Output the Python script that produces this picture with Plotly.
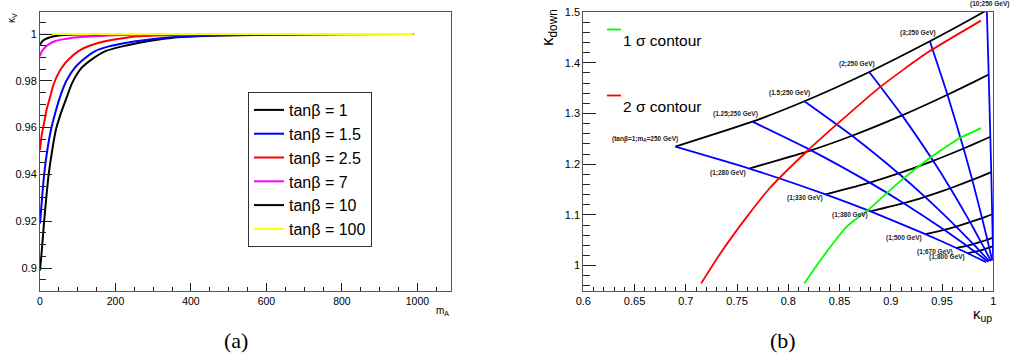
import plotly.graph_objects as go

W, H = 1012, 360
FONT = "Liberation Sans, Arial, sans-serif"

# ---------------- Panel (a): kappa_V vs m_A ----------------
legend_a = ["tanβ = 1", "tanβ = 1.5", "tanβ = 2.5", "tanβ = 7", "tanβ = 10", "tanβ = 100"]
colors_a = ["#000000", "#0000ff", "#ff0000", "#ff00ff", "#000000", "#ffff00"]

mA_tb1 = [0, 4, 7, 11, 16, 23, 32, 42, 55, 70, 85, 110, 140, 172, 215, 260, 348, 450, 600, 800, 990]
kv_tb1 = [0.899, 0.906, 0.912, 0.920, 0.929, 0.940, 0.950, 0.959, 0.966, 0.9726, 0.979, 0.9855,
          0.9895, 0.9926, 0.9946, 0.9962, 0.9983, 0.9992, 0.9997, 0.9999, 1.0]

mA_tb15 = [0, 5, 11, 19, 29, 40, 52, 70, 92, 118, 145, 180, 225, 290, 348, 450, 600, 800, 990]
kv_tb15 = [0.919, 0.929, 0.940, 0.950, 0.959, 0.966, 0.9726, 0.980, 0.9855, 0.9895, 0.9926, 0.9946,
           0.9962, 0.9977, 0.9986, 0.9994, 0.9998, 1.0, 1.0]

mA_tb25 = [0, 3, 7, 12, 18, 26, 35, 45, 57, 75, 101, 135, 172, 215, 260, 350, 500, 700, 990]
kv_tb25 = [0.9504, 0.955, 0.959, 0.963, 0.968, 0.9726, 0.978, 0.982, 0.9855, 0.989, 0.9926, 0.9952,
           0.9969, 0.9981, 0.999, 0.9996, 0.9999, 1.0, 1.0]

mA_tb7 = [0, 5, 12, 24, 39, 60, 83, 110, 136, 180, 250, 350, 500, 990]
kv_tb7 = [0.9905, 0.9926, 0.994, 0.9957, 0.9969, 0.9977, 0.9983, 0.9987, 0.999, 0.9994, 0.9997,
          0.9999, 1.0, 1.0]

mA_tb10 = [0, 8, 21, 48, 100, 200, 400, 990]
kv_tb10 = [0.9954, 0.9972, 0.9983, 0.9994, 0.9998, 1.0, 1.0, 1.0]

mA_tb100 = [0, 990]
kv_tb100 = [1.0, 1.0]

series_a = [(mA_tb1, kv_tb1), (mA_tb15, kv_tb15), (mA_tb25, kv_tb25),
            (mA_tb7, kv_tb7), (mA_tb10, kv_tb10), (mA_tb100, kv_tb100)]

# ---------------- Panel (b): kappa_down vs kappa_up grid ----------------
grid_tanb = [1, 1.25, 1.5, 2, 3, 5, 10]
grid_tanb_text = ["1", "1.25", "1.5", "2", "3", "5", "10"]
grid_mA = [250, 280, 330, 380, 500, 670, 800, 1000, 1500]

k_up = [
    [0.6898, 0.7620, 0.8363, 0.8803, 0.9337, 0.9640, 0.9750, 0.9841, 0.9930],
    [0.7650, 0.8222, 0.8795, 0.9126, 0.9520, 0.9741, 0.9821, 0.9886, 0.9950],
    [0.8157, 0.8622, 0.9076, 0.9334, 0.9637, 0.9805, 0.9865, 0.9915, 0.9962],
    [0.8790, 0.9110, 0.9413, 0.9581, 0.9774, 0.9879, 0.9917, 0.9947, 0.9977],
    [0.9381, 0.9553, 0.9710, 0.9795, 0.9890, 0.9942, 0.9960, 0.9975, 0.9989],
    [0.9757, 0.9827, 0.9889, 0.9922, 0.9958, 0.9978, 0.9985, 0.9991, 0.9996],
    [0.9937, 0.9955, 0.9971, 0.9980, 0.9989, 0.9994, 0.9996, 0.9997, 0.9999],
]
k_down = [
    [1.2346, 1.1914, 1.1404, 1.1068, 1.0622, 1.0348, 1.0244, 1.0156, 1.0069],
    [1.2838, 1.2273, 1.1636, 1.1230, 1.0706, 1.0391, 1.0274, 1.0175, 1.0078],
    [1.3240, 1.2560, 1.1817, 1.1356, 1.0771, 1.0425, 1.0297, 1.0190, 1.0084],
    [1.3818, 1.2962, 1.2066, 1.1526, 1.0857, 1.0469, 1.0327, 1.0208, 1.0092],
    [1.4422, 1.3369, 1.2309, 1.1689, 1.0938, 1.0511, 1.0355, 1.0226, 1.0100],
    [1.4832, 1.3638, 1.2466, 1.1793, 1.0989, 1.0536, 1.0373, 1.0236, 1.0104],
    [1.5035, 1.3768, 1.2540, 1.1842, 1.1013, 1.0548, 1.0381, 1.0241, 1.0106],
]
blue_tanb = [1, 1.25, 1.5, 2, 3, 10]          # constant tan(beta) lines
black_mA = [250, 280, 330, 380, 500, 670, 800]  # constant m_A lines

contour2_up = [0.715, 0.733, 0.761, 0.782, 0.8195, 0.847, 0.8895, 0.935, 0.988]
contour2_down = [0.965, 1.022, 1.100, 1.153, 1.228, 1.278, 1.352, 1.419, 1.483]
contour1_up = [0.8156, 0.834, 0.857, 0.878, 0.909, 0.938, 0.967, 0.988]
contour1_down = [0.965, 1.018, 1.077, 1.110, 1.166, 1.212, 1.251, 1.271]


def px(x):
    return x / W


def py(y):
    return 1 - y / H


fig = go.Figure()

for (xs, ys), name, col in zip(series_a, legend_a, colors_a):
    fig.add_trace(go.Scatter(x=xs, y=ys, mode="lines", name=name, legendgroup=name,
                             line=dict(color=col, width=2, shape="spline", smoothing=0.6),
                             xaxis="x", yaxis="y", hoverinfo="skip"))

# black lines: constant m_A, varying tan(beta)
for m in black_mA:
    j = grid_mA.index(m)
    fig.add_trace(go.Scatter(x=[row[j] for row in k_up], y=[row[j] for row in k_down],
                             mode="lines", line=dict(color="#000000", width=1.8, shape="spline", smoothing=0.5),
                             showlegend=False, xaxis="x2", yaxis="y2", hoverinfo="skip"))
# blue lines: constant tan(beta), varying m_A
for t in blue_tanb:
    i = grid_tanb.index(t)
    fig.add_trace(go.Scatter(x=k_up[i], y=k_down[i], mode="lines",
                             line=dict(color="#0000ff", width=1.8, shape="spline", smoothing=0.5),
                             showlegend=False, xaxis="x2", yaxis="y2", hoverinfo="skip"))

fig.add_trace(go.Scatter(x=contour2_up, y=contour2_down, mode="lines",
                         line=dict(color="#ff0000", width=1.8, shape="spline", smoothing=0.5),
                         showlegend=False, xaxis="x2", yaxis="y2", hoverinfo="skip"))
fig.add_trace(go.Scatter(x=contour1_up, y=contour1_down, mode="lines",
                         line=dict(color="#00ff00", width=1.8, shape="spline", smoothing=0.5),
                         showlegend=False, xaxis="x2", yaxis="y2", hoverinfo="skip"))

annotations = []
lab_font = dict(family=FONT, size=6.5, color="#222222")

# labels of the m_A = 250 GeV points
i250 = grid_mA.index(250)
for t, tt in zip(grid_tanb, grid_tanb_text):
    if t not in blue_tanb:
        continue
    i = grid_tanb.index(t)
    yv = min(k_down[i][i250], 1.5)
    if t == 1:
        txt = "<b>(tanβ=1;m<sub>A</sub>=250 GeV)</b>"
        xs_, ys_ = 5, 2
    elif t == 10:
        txt = "<b>(10;250 GeV)</b>"
        xs_, ys_ = 24, 2
    else:
        txt = "<b>(%s;250 GeV)</b>" % tt
        xs_, ys_ = 8, 2
    annotations.append(dict(x=k_up[i][i250], y=yv, xref="x2", yref="y2", text=txt,
                            showarrow=False, xanchor="right", yanchor="bottom", xshift=xs_, yshift=ys_,
                            font=lab_font))
# labels of the tan(beta) = 1 points
for m in black_mA[1:]:
    j = grid_mA.index(m)
    annotations.append(dict(x=k_up[0][j], y=k_down[0][j], xref="x2", yref="y2",
                            text="<b>(1;%d GeV)</b>" % m, showarrow=False,
                            xanchor="right", yanchor="middle", xshift=-1, yshift=-4, font=lab_font))


def paper_text(x, y, text, size, xanchor="center", angle=0, family=FONT):
    return dict(x=px(x), y=py(y), xref="paper", yref="paper", text=text, textangle=angle,
                xanchor=xanchor, yanchor="middle", showarrow=False,
                font=dict(family=family, size=size, color="black"))


SERIF = "Liberation Serif, DejaVu Serif, serif"
annotations += [
    paper_text(12, 18, "κ<sub>V</sub>", 10, angle=-90),
    paper_text(451, 311, "m<sub>A</sub>", 10, xanchor="right"),
    paper_text(549, 28, "κ<sub>down</sub>", 17, angle=-90),
    paper_text(994, 314, "κ<sub>up</sub>", 15, xanchor="right"),
    paper_text(236, 340, "(a)", 22, family=SERIF),
    paper_text(783, 340, "(b)", 22, family=SERIF),
    paper_text(621, 40, "1 σ contour", 15.5, xanchor="left"),
    paper_text(621, 106, "2 σ contour", 15.5, xanchor="left"),
]

shapes = [
    dict(type="line", xref="paper", yref="paper", x0=px(607), x1=px(621), y0=py(29.5), y1=py(29.5),
         line=dict(color="#00ff00", width=1.8)),
    dict(type="line", xref="paper", yref="paper", x0=px(607), x1=px(621), y0=py(95.5), y1=py(95.5),
         line=dict(color="#ff0000", width=1.8)),
]

axis_common = dict(showgrid=False, zeroline=False, showline=True, linecolor="#555555", linewidth=1,
                   mirror=True, ticks="inside", tickcolor="#222222", tickwidth=1, automargin=False,
                   tickfont=dict(family=FONT, size=11, color="black"))

ydom = [py(291), py(12)]

fig.update_layout(
    template="none",
    width=W, height=H, margin=dict(l=0, r=0, t=0, b=0, pad=0, autoexpand=False),
    paper_bgcolor="white", plot_bgcolor="white",
    font=dict(family=FONT, color="black"),
    showlegend=True,
    legend=dict(x=px(248), y=py(92), xanchor="left", yanchor="top", bgcolor="white",
                bordercolor="#333333", borderwidth=1, font=dict(family=FONT, size=16, color="black"),
                traceorder="normal", tracegroupgap=1.5, itemwidth=30),
    xaxis=dict(domain=[px(40), px(451)], range=[0, 1089], anchor="y", tick0=0, dtick=200, ticklen=8,
               minor=dict(ticks="inside", ticklen=4, tick0=0, dtick=50, tickcolor="#222222"),
               **{**axis_common, "tickfont": dict(family=FONT, size=10.5, color="black")}),
    yaxis=dict(domain=ydom, range=[0.8902, 1.0094], anchor="x",
               tickvals=[0.9, 0.92, 0.94, 0.96, 0.98, 1.0],
               ticktext=["0.9", "0.92", "0.94", "0.96", "0.98", "1"], ticklen=12,
               minor=dict(ticks="inside", ticklen=6, tick0=0.9, dtick=0.005, tickcolor="#222222"),
               **axis_common),
    xaxis2=dict(domain=[px(583.3), px(993.3)], range=[0.6, 1.0], anchor="y2", tick0=0.6, dtick=0.05,
                ticklen=7, minor=dict(ticks="inside", ticklen=4, tick0=0.6, dtick=0.01, tickcolor="#222222"),
                **axis_common),
    yaxis2=dict(domain=ydom, range=[0.95, 1.5], anchor="x2", tickvals=[1.0, 1.1, 1.2, 1.3, 1.4, 1.5],
                ticktext=["1", "1.1", "1.2", "1.3", "1.4", "1.5"], ticklen=13,
                minor=dict(ticks="inside", ticklen=7, tick0=1.0, dtick=0.02, tickcolor="#222222"),
                **axis_common),
    annotations=annotations,
    shapes=shapes,
)

fig.write_html("out.html", config={"displayModeBar": False},
               post_script="document.body.style.margin='0px';document.body.style.overflow='hidden';")
